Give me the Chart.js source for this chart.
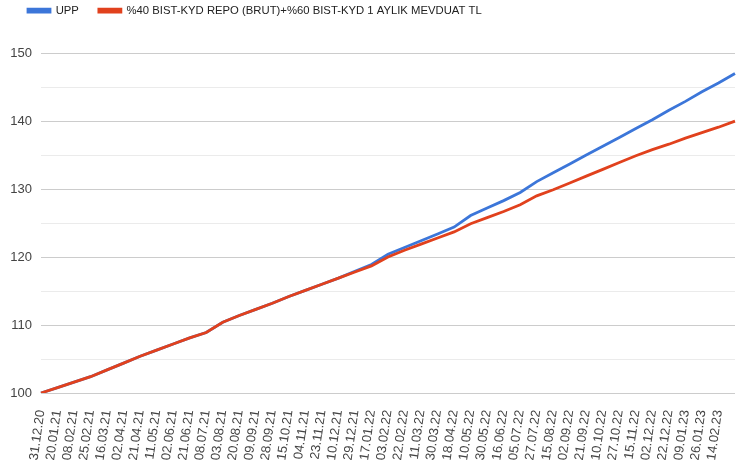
<!DOCTYPE html>
<html lang="tr">
<head>
    <meta charset="UTF-8">
    <title>UPP vs benchmark</title>
    <script src="https://cdn.jsdelivr.net/npm/chart.js"></script>
    <style>
    html, body {
        margin: 0;
        padding: 0;
        background: #ffffff;
    }
    #wrap {
        width: 736px;
        height: 463px;
    }
    </style>
</head>
<body>
    <div id="wrap">
    <canvas id="uppChart"></canvas>
    </div>

    <script>
    const dates = [
        '31.12.20', '20.01.21', '08.02.21', '25.02.21', '16.03.21', '02.04.21', '21.04.21',
        '11.05.21', '02.06.21', '21.06.21', '08.07.21', '03.08.21', '20.08.21', '09.09.21',
        '28.09.21', '15.10.21', '04.11.21', '23.11.21', '10.12.21', '29.12.21', '17.01.22',
        '03.02.22', '22.02.22', '11.03.22', '30.03.22', '18.04.22', '10.05.22', '30.05.22',
        '16.06.22', '05.07.22', '27.07.22', '15.08.22', '02.09.22', '21.09.22', '10.10.22',
        '27.10.22', '15.11.22', '02.12.22', '22.12.22', '09.01.23', '26.01.23', '14.02.23',
        '03.03.23'
    ];

    const uppValues = [
        100.0, 100.8, 101.6, 102.4, 103.4, 104.4, 105.4, 106.3, 107.2, 108.1, 108.9,
        110.4, 111.4, 112.3, 113.2, 114.2, 115.1, 116.0, 116.9, 117.9, 118.9, 120.4,
        121.4, 122.4, 123.4, 124.4, 126.1, 127.2, 128.3, 129.5, 131.1, 132.4, 133.7,
        135.0, 136.3, 137.6, 138.9, 140.2, 141.6, 142.9, 144.3, 145.6, 147.0
    ];

    const benchmarkValues = [
        100.0, 100.8, 101.6, 102.4, 103.4, 104.4, 105.4, 106.3, 107.2, 108.1, 108.9,
        110.4, 111.4, 112.3, 113.2, 114.2, 115.1, 116.0, 116.9, 117.8, 118.7, 120.0,
        121.0, 121.9, 122.8, 123.7, 124.9, 125.8, 126.7, 127.7, 129.0, 129.9, 130.9,
        131.9, 132.9, 133.9, 134.9, 135.8, 136.6, 137.5, 138.3, 139.1, 140.0
    ];

    const seriesNames = ['UPP', '%40 BIST-KYD REPO (BRUT)+%60 BIST-KYD 1 AYLIK MEVDUAT TL'];

    // the last point has no tick label in the original
    const lastLabelIndex = dates.length - 1;

    Chart.defaults.font.family = "'Liberation Sans', Arial, sans-serif";

    // push the plot down below the legend
    const legendSpace = {
        id: 'legendSpace',
        beforeInit(chart) {
        const origFit = chart.legend.fit;
        chart.legend.fit = function () {
            origFit.bind(chart.legend)();
            this.height += 26.8;
        };
        }
    };

    const ctx = document.getElementById('uppChart').getContext('2d');

    new Chart(ctx, {
        type: 'line',
        data: {
        labels: dates,
        datasets: [
            {
            label: seriesNames[0],
            data: uppValues,
            borderColor: '#3c76d9',
            backgroundColor: '#3c76d9',
            borderWidth: 2.8,
            pointRadius: 0,
            tension: 0,
            order: 1
            },
            {
            label: seriesNames[1],
            data: benchmarkValues,
            borderColor: '#e1411d',
            backgroundColor: '#e1411d',
            borderWidth: 2.8,
            pointRadius: 0,
            tension: 0,
            order: 0
            }
        ]
        },
        options: {
        responsive: true,
        maintainAspectRatio: false,
        animation: false,
        layout: {
            padding: { top: -15, left: 8, right: 1, bottom: 2 }
        },
        scales: {
            x: {
            grid: { display: false, drawTicks: false },
            border: { display: false },
            // fixed height, and no extra room on the right for the tick padding
            afterFit: function (scale) {
                scale.height = 68;
                scale.paddingRight = 0;
            },
            ticks: {
                autoSkip: false,
                minRotation: 82,
                maxRotation: 82,
                padding: 16,
                color: '#444444',
                font: { size: 13 },
                callback: function (value, index) {
                if (index === lastLabelIndex) return null;
                return this.getLabelForValue(value);
                }
            }
            },
            y: {
            min: 100,
            max: 150,
            afterFit: function (scale) { scale.width = 33; },
            grid: {
                drawTicks: false,
                color: c => (c.tick.value % 10 === 0 ? '#cccccc' : '#ebebeb')
            },
            border: { display: false },
            ticks: {
                stepSize: 5,
                padding: 9,
                color: '#444444',
                font: { size: 13 },
                callback: v => (v % 10 === 0 ? v : '')
            }
            }
        },
        plugins: {
            legend: {
            position: 'top',
            align: 'start',
            labels: {
                boxWidth: 22,
                boxHeight: 3,
                padding: 20,
                color: '#222222',
                font: { size: 11.3 },
                sort: (a, b) => a.datasetIndex - b.datasetIndex
            }
            },
            tooltip: { enabled: false }
        }
        },
        plugins: [legendSpace]
    });
    </script>
</body>
</html>
